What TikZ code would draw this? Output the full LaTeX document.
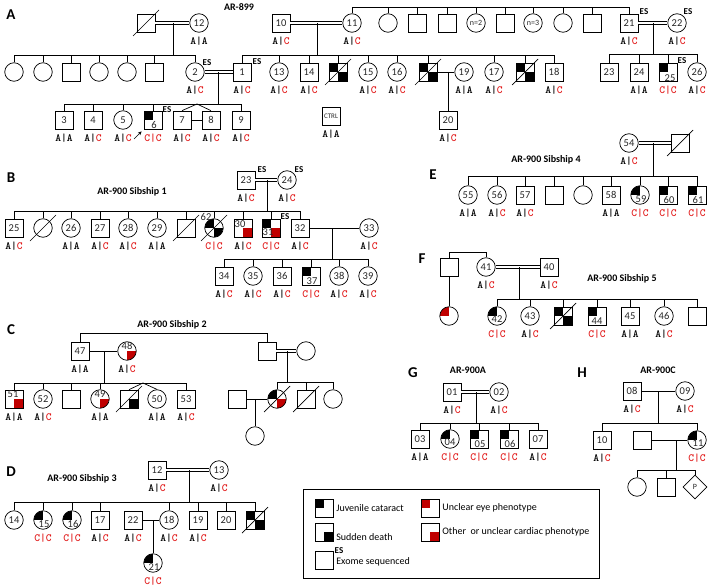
\documentclass[tikz,border=0pt]{standalone}
\usepackage{fontspec}
\setmainfont{Carlito}
\usetikzlibrary{shapes.geometric,arrows.meta}
\definecolor{mred}{RGB}{192,0,0}
\definecolor{gred}{RGB}{225,25,25}
\newcommand{\gaa}{A|A}
\newcommand{\gac}{A|\textcolor{gred}{C}}
\newcommand{\gcc}{\textcolor{gred}{C|C}}
\newcommand{\dead}[1]{\draw ([shift={(-13,13)}]#1.center) -- ([shift={(13,-13)}]#1.center);}
\tikzset{
  pbase/.style={draw, inner sep=0pt, text=black!85, font=\fontsize{10.5}{10.5}\selectfont},
  sq/.style={pbase, rectangle, minimum size=18pt},
  ci/.style={pbase, circle, minimum size=18.5pt},
  qd/.style 2 args={path picture={\fill[#1] (path picture bounding box.center) rectangle (path picture bounding box.north west); \fill[#2] (path picture bounding box.center) rectangle (path picture bounding box.south east);}},
  gts/.style={font=\ttfamily\bfseries\fontsize{11}{11}\selectfont, text=black, text height=6.5pt, text depth=0pt, inner sep=0pt, label distance=5.25pt},
  gt/.style={label={[gts]below:#1}},
  nf/.style={inner sep=0pt, text=black!85, font=\fontsize{10.5}{10.5}\selectfont},
  esf/.style={inner sep=0pt, font=\bfseries\fontsize{9}{9}\selectfont},
  pl/.style={inner sep=0pt, font=\bfseries\fontsize{15}{15}\selectfont},
  ttl/.style={inner sep=0pt, font=\bfseries\fontsize{10}{10}\selectfont},
  dbl/.style={double, double distance=2pt},
  lgt/.style={inner sep=0pt, anchor=west, font=\fontsize{10}{10}\selectfont},
}
\begin{document}
\begin{tikzpicture}[x=1pt,y=-1pt,line width=0.7pt]
\useasboundingbox (0,0) rectangle (709,588);
% ================= A =================
\node[pl] (lA) at (11,15) {A};
\node[ttl] (tA) at (239,7) {AR-899};
\node[sq] (a0) at (146,23) {};
\node[ci,gt=\gaa] (a12) at (199,23) {12};
\dead{a0}
\draw[dbl] (a0) -- (a12);
\coordinate (aS1) at (173,55);
\draw (aS1 |- a12) -- (aS1);
\node[ci] (aL1) at (14,72) {};
\node[ci] (aL2) at (43,72) {};
\node[sq] (aL3) at (71,72) {};
\node[ci] (aL4) at (99,72) {};
\node[ci] (aL5) at (127,72) {};
\node[sq] (aL6) at (154,72) {};
\node[ci,gt=\gac] (a2) at (195,72) {2};
\node[esf] (es2) at (207,63) {ES};
\draw (aL1.north |- aS1) -- (a2.north |- aS1);
\foreach \c in {aL1,aL2,aL3,aL4,aL5,aL6,a2} \draw (\c.north) -- (\c.north |- aS1);
\node[sq,gt=\gac] (a10) at (281,23) {10};
\node[ci,gt=\gac] (a11) at (352,23) {11};
\draw[dbl] (a10) -- (a11);
\coordinate (aS2) at (317,55);
\draw (aS2 |- a10) -- (aS2);
\node[sq,gt=\gac] (a1) at (242,72) {1};
\node[esf] (es1) at (257,62) {ES};
\node[ci,gt=\gac] (a13) at (279,72) {13};
\node[sq,gt=\gac] (a14) at (309,72) {14};
\node[sq,qd={black}{black}] (aD1) at (338,72) {};
\node[ci,gt=\gac] (a15) at (368,72) {15};
\node[ci,gt=\gac] (a16) at (397,72) {16};
\node[sq,qd={black}{black}] (aD2) at (428,72) {};
\node[ci,gt=\gaa] (a19) at (464,72) {19};
\node[ci,gt=\gac] (a17) at (494,72) {17};
\node[sq,qd={black}{black}] (aD3) at (525,72) {};
\node[sq,gt=\gac] (a18) at (554,72) {18};
\dead{aD1}\dead{aD2}\dead{aD3}
\draw (a1.north |- aS2) -- (a18.north |- aS2);
\foreach \c in {a1,a13,a14,aD1,a15,a16,aD2,a17,aD3,a18} \draw (\c.north) -- (\c.north |- aS2);
\draw (aD2) -- (a19);
\node[sq,gt=\gac] (a20) at (448,120) {20};
\draw (a20.north |- aD2) -- (a20.north);
\draw[dbl] (a2) -- (a1);
\coordinate (aS3) at (218,104);
\draw (aS3 |- a2) -- (aS3);
\node[sq,gt=\gaa] (a3) at (64,120) {3};
\node[sq,gt=\gac] (a4) at (93,120) {4};
\node[ci,gt=\gac] (a5) at (123,120) {5};
\node[sq,qd={black}{white},gt=\gcc] (a6) at (153,120) {};
\node[nf] (n6) at ([shift={(1,5)}]a6.center) {6};
\node[esf] (es6) at (167,110) {ES};
\node[sq,gt=\gac] (a7) at (182,120) {7};
\node[sq,gt=\gac] (a8) at (211,120) {8};
\node[sq,gt=\gac] (a9) at (241,120) {9};
\draw (a3.north |- aS3) -- (a9.north |- aS3);
\foreach \c in {a3,a4,a5,a6,a9} \draw (\c.north) -- (\c.north |- aS3);
\coordinate (atw) at (197,104);
\draw (a7.north) -- (atw) -- (a8.north);
\draw (a7) -- (a8);
\coordinate (aar) at (134,139);
\draw[-{Stealth[length=4pt,width=3.5pt]}] (aar) -- ([shift={(-2,2)}]a6.south west);
\node[sq,gt=\gaa,font=\fontsize{7}{7}\selectfont] (actrl) at (331,116) {CTRL};
\coordinate (aS0) at (352,7);
\node[ci] (aT1) at (388,23) {};
\node[sq] (aT2) at (417,23) {};
\node[sq] (aT3) at (447,23) {};
\node[ci,font=\fontsize{8}{8}\selectfont] (aT4) at (476,23) {n=2};
\node[sq] (aT5) at (505,23) {};
\node[ci,font=\fontsize{8}{8}\selectfont] (aT6) at (533,23) {n=3};
\node[ci] (aT7) at (563,23) {};
\node[sq] (aT8) at (592,23) {};
\node[sq,gt=\gac] (a21) at (629,23) {21};
\node[esf] (es21) at (644,12) {ES};
\node[ci,gt=\gac] (a22) at (677,23) {22};
\node[esf] (es22) at (688,12) {ES};
\draw (a11.north |- aS0) -- (a21.north |- aS0);
\foreach \c in {a11,aT1,aT2,aT3,aT4,aT5,aT6,aT7,aT8,a21} \draw (\c.north) -- (\c.north |- aS0);
\draw[dbl] (a21) -- (a22);
\coordinate (aS4) at (653,54);
\draw (aS4 |- a21) -- (aS4);
\node[sq] (a23) at (609,72) {23};
\node[sq,gt=\gaa] (a24) at (639,72) {24};
\node[sq,qd={black}{white},gt=\gcc] (a25) at (668,72) {};
\node[nf] (n25) at ([shift={(2,6)}]a25.center) {25};
\node[esf] (es25) at (682,61) {ES};
\node[ci,gt=\gac] (a26) at (697,72) {26};
\draw (a23.north |- aS4) -- (a26.north |- aS4);
\foreach \c in {a23,a24,a25,a26} \draw (\c.north) -- (\c.north |- aS4);
% ================= B =================
\node[pl] (lB) at (11,178) {B};
\node[ttl] (tB) at (132,192) {AR-900 Sibship 1};
\node[sq,gt=\gac] (b23) at (246,180) {23};
\node[esf] (es23) at (262,170) {ES};
\node[ci,gt=\gac] (b24) at (287,180) {24};
\node[esf] (es24) at (299,170) {ES};
\draw[dbl] (b23) -- (b24);
\coordinate (bS1) at (267,211);
\draw (bS1 |- b23) -- (bS1);
\node[sq,gt=\gac] (b25) at (14,228) {25};
\node[ci] (bD1) at (43,228) {};
\node[ci,gt=\gaa] (b26) at (71,228) {26};
\node[sq,gt=\gac] (b27) at (100,228) {27};
\node[ci,gt=\gac] (b28) at (128,228) {28};
\node[ci,gt=\gaa] (b29) at (157,228) {29};
\node[sq] (bD2) at (186,228) {};
\node[ci,qd={black}{black},gt=\gcc] (b62) at (214,228) {};
\node[nf] (n62) at ([shift={(-8,-11)}]b62.center) {62};
\node[sq,qd={white}{mred},gt=\gac] (b30) at (243,228) {};
\node[nf] (n30) at ([shift={(-3,-4)}]b30.center) {30};
\node[sq,qd={black}{mred},gt=\gcc] (b31) at (271,228) {};
\node[nf] (n31) at ([shift={(-3,4)}]b31.center) {31};
\node[esf] (es31) at (285,217) {ES};
\node[sq,gt=\gac] (b32) at (300,228) {32};
\dead{bD1}\dead{bD2}\dead{b62}
\draw (b25.north |- bS1) -- (b32.north |- bS1);
\foreach \c in {b25,bD1,b26,b27,b28,b29,bD2,b62,b30,b31,b32} \draw (\c.north) -- (\c.north |- bS1);
\node[ci,gt=\gac] (b33) at (369,228) {33};
\draw (b32) -- (b33);
\coordinate (bS2) at (332,259);
\draw (bS2 |- b32) -- (bS2);
\node[sq,gt=\gac] (b34) at (224,276) {34};
\node[ci,gt=\gac] (b35) at (253,276) {35};
\node[sq,gt=\gac] (b36) at (282,276) {36};
\node[sq,qd={black}{white},gt=\gcc] (b37) at (311,276) {};
\node[nf] (n37) at ([shift={(1,5)}]b37.center) {37};
\node[ci,gt=\gac] (b38) at (339,276) {38};
\node[ci,gt=\gac] (b39) at (368,276) {39};
\draw (b34.north |- bS2) -- (b39.north |- bS2);
\foreach \c in {b34,b35,b36,b37,b38,b39} \draw (\c.north) -- (\c.north |- bS2);
% ================= C =================
\node[pl] (lC) at (11,330) {C};
\node[ttl] (tC) at (172,325) {AR-900 Sibship 2};
\node[sq,gt=\gaa] (c47) at (80,351) {47};
\node[ci,qd={white}{mred},gt=\gac] (c48) at (127,351) {};
\node[nf] (n48) at ([shift={(0,-5)}]c48.center) {48};
\draw (c47) -- (c48);
\coordinate (cS1) at (104,383);
\draw (cS1 |- c47) -- (cS1);
\node[sq,qd={white}{mred},gt=\gaa] (c51) at (14,399) {};
\node[nf] (n51) at ([shift={(-1,-5)}]c51.center) {51};
\node[ci,gt=\gac] (c52) at (43,399) {52};
\node[sq] (cU1) at (71,399) {};
\node[ci,qd={white}{mred},gt=\gaa] (c49) at (100,399) {};
\node[nf] (n49) at ([shift={(0,-5)}]c49.center) {49};
\node[sq,qd={white}{black}] (cD1) at (129,399) {};
\node[ci,gt=\gaa] (c50) at (157,399) {50};
\node[sq,gt=\gac] (c53) at (186,399) {53};
\dead{cD1}
\draw (c51.north |- cS1) -- (c53.north |- cS1);
\foreach \c in {c51,c52,cU1,c49,c53} \draw (\c.north) -- (\c.north |- cS1);
\coordinate (ctw) at (143,383);
\draw (cD1.north) -- (ctw) -- (c50.north);
\coordinate (cT) at (80,333);
\node[sq] (cR) at (267,351) {};
\node[ci] (cRw) at (306,351) {};
\draw (c47.north) -- (c47.north |- cT) -- (cR.north |- cT) -- (cR.north);
\draw[dbl] (cR) -- (cRw);
\coordinate (cS2) at (287,382);
\draw (cS2 |- cR) -- (cS2);
\node[ci,qd={black}{mred}] (cD2) at (277,399) {};
\node[sq] (cD3) at (306,399) {};
\node[ci] (cU2) at (333,399) {};
\dead{cD2}\dead{cD3}
\draw (cD2.north |- cS2) -- (cU2.north |- cS2);
\foreach \c in {cD2,cD3,cU2} \draw (\c.north) -- (\c.north |- cS2);
\node[sq] (cSp) at (237,399) {};
\draw (cSp) -- (cD2);
\node[ci] (cU3) at (255,436) {};
\draw (cU3.north |- cSp) -- (cU3.north);
% ================= D =================
\node[pl] (lD) at (11,472) {D};
\node[ttl] (tD) at (82,479) {AR-900 Sibship 3};
\node[sq,gt=\gac] (d12) at (157,470) {12};
\node[ci,gt=\gac] (d13) at (219,470) {13};
\draw[dbl] (d12) -- (d13);
\coordinate (dS) at (189,502);
\draw (dS |- d12) -- (dS);
\node[ci] (d14) at (14,520) {14};
\node[ci,qd={black}{white},gt=\gcc] (d15) at (43,520) {};
\node[nf] (n15) at ([shift={(1,4)}]d15.center) {15};
\node[ci,qd={black}{white},gt=\gcc] (d16) at (72,520) {};
\node[nf] (n16) at ([shift={(1,4)}]d16.center) {16};
\node[sq,gt=\gac] (d17) at (100,520) {17};
\node[sq,gt=\gac] (d22) at (133,520) {22};
\node[ci,gt=\gac] (d18) at (169,520) {18};
\node[sq,gt=\gac] (d19) at (198,520) {19};
\node[sq] (d20) at (226,520) {20};
\node[sq,qd={black}{black}] (dD) at (255,520) {};
\dead{dD}
\draw (d14.north |- dS) -- (dD.north |- dS);
\foreach \c in {d14,d15,d16,d17,d18,d19,d20,dD} \draw (\c.north) -- (\c.north |- dS);
\draw (d22) -- (d18);
\node[ci,qd={black}{white},gt=\gcc] (d21) at (153,563) {};
\node[nf] (n21) at ([shift={(1,4)}]d21.center) {21};
\draw (d21.north |- d22) -- (d21.north);
% ================= E =================
\node[pl] (lE) at (433,175) {E};
\node[ttl] (tE) at (546,160) {AR-900 Sibship 4};
\node[ci,gt=\gac] (e54) at (629,143) {54};
\node[sq] (eD) at (680,143) {};
\dead{eD}
\draw[dbl] (e54) -- (eD);
\coordinate (eS) at (653,176);
\draw (eS |- e54) -- (eS);
\node[ci,gt=\gaa] (e55) at (468,195) {55};
\node[ci,gt=\gac] (e56) at (497,195) {56};
\node[sq,gt=\gac] (e57) at (525,195) {57};
\node[sq] (eU1) at (554,195) {};
\node[ci] (eU2) at (583,195) {};
\node[sq,gt=\gaa] (e58) at (611,195) {58};
\node[ci,qd={black}{white},gt=\gcc] (e59) at (640,195) {};
\node[nf] (n59) at ([shift={(1,4)}]e59.center) {59};
\node[sq,qd={black}{white},gt=\gcc] (e60) at (668,195) {};
\node[nf] (n60) at ([shift={(1,5)}]e60.center) {60};
\node[sq,qd={black}{white},gt=\gcc] (e61) at (697,195) {};
\node[nf] (n61) at ([shift={(1,5)}]e61.center) {61};
\draw (e55.north |- eS) -- (e61.north |- eS);
\foreach \c in {e55,e56,e57,eU1,eU2,e58,e59,e60,e61} \draw (\c.north) -- (\c.north |- eS);
% ================= F =================
\node[pl] (lF) at (422,259) {F};
\node[ttl] (tF) at (622,279) {AR-900 Sibship 5};
\node[sq] (fU) at (449,267) {};
\node[ci,gt=\gac] (f41) at (486,267) {41};
\node[sq,gt=\gac] (f40) at (549,267) {40};
\coordinate (fT) at (449,252);
\draw (fU.north) -- (fU.north |- fT) -- (f41.north |- fT) -- (f41.north);
\draw[dbl] (f41) -- (f40);
\coordinate (fS) at (519,299);
\draw (fS |- f41) -- (fS);
\node[ci,qd={mred}{white}] (fR) at (449,316) {};
\draw (fU) -- (fR);
\node[ci,qd={black}{white},gt=\gcc] (f42) at (497,316) {};
\node[nf] (n42) at ([shift={(0,3)}]f42.center) {42};
\node[ci,gt=\gac] (f43) at (530,316) {43};
\node[sq,qd={black}{black}] (fD) at (563,316) {};
\dead{fD}
\node[sq,qd={black}{white},gt=\gcc] (f44) at (597,316) {};
\node[nf] (n44) at ([shift={(0,5)}]f44.center) {44};
\node[sq,gt=\gaa] (f45) at (630,316) {45};
\node[ci,gt=\gac] (f46) at (664,316) {46};
\node[sq] (fU2) at (697,316) {};
\draw (f42.north |- fS) -- (fU2.north |- fS);
\foreach \c in {f42,f43,fD,f44,f45,f46,fU2} \draw (\c.north) -- (\c.north |- fS);
% ================= G =================
\node[pl] (lG) at (413,373) {G};
\node[ttl] (tG) at (468,370) {AR-900A};
\node[sq,gt=\gac] (g01) at (452,392) {01};
\node[ci,gt=\gac] (g02) at (499,392) {02};
\draw[dbl] (g01) -- (g02);
\coordinate (gS) at (476,423);
\draw (gS |- g01) -- (gS);
\node[sq,gt=\gaa] (g03) at (420,439) {03};
\node[ci,qd={black}{white},gt=\gcc] (g04) at (450,439) {};
\node[nf] (n04) at ([shift={(0,3)}]g04.center) {04};
\node[sq,qd={black}{white},gt=\gcc] (g05) at (479,439) {};
\node[nf] (n05) at ([shift={(1,5)}]g05.center) {05};
\node[sq,qd={black}{white},gt=\gcc] (g06) at (509,439) {};
\node[nf] (n06) at ([shift={(1,5)}]g06.center) {06};
\node[sq,gt=\gac] (g07) at (538,439) {07};
\draw (g03.north |- gS) -- (g07.north |- gS);
\foreach \c in {g03,g04,g05,g06,g07} \draw (\c.north) -- (\c.north |- gS);
% ================= H =================
\node[pl] (lH) at (582,373) {H};
\node[ttl] (tH) at (658,370) {AR-900C};
\node[sq,gt=\gac] (h08) at (632,391) {08};
\node[ci,gt=\gac] (h09) at (685,391) {09};
\draw (h08) -- (h09);
\coordinate (hS) at (658,423);
\draw (hS |- h08) -- (hS);
\node[sq,gt=\gac] (h10) at (602,440) {10};
\node[sq] (hU) at (642,440) {};
\node[ci,qd={black}{white},gt=\gcc] (h11) at (697,440) {};
\node[nf] (n11) at ([shift={(1,3)}]h11.center) {11};
\draw (h10.north |- hS) -- (h11.north |- hS);
\foreach \c in {h10,h11} \draw (\c.north) -- (\c.north |- hS);
\draw (hU) -- (h11);
\coordinate (hS2) at (676,470);
\draw (hS2 |- hU) -- (hS2);
\node[ci] (hC1) at (637,487) {};
\node[sq] (hC2) at (666,487) {};
\node[pbase,diamond,minimum size=24pt,font=\fontsize{8}{8}\selectfont] (hP) at (695,487) {P};
\draw (hC1.north |- hS2) -- (hP.north |- hS2);
\foreach \c in {hC1,hC2,hP} \draw (\c.north) -- (\c.north |- hS2);
% ================= Legend =================
\draw (303,489) rectangle (599,578);
\node[sq,qd={black}{white}] (lg1) at (324,508) {};
\node[lgt] (lt1) at (336,508) {Juvenile cataract};
\node[sq,qd={white}{black}] (lg2) at (324,532) {};
\node[lgt] (lt2) at (336,537) {Sudden death};
\node[sq] (lg3) at (324,560) {};
\node[esf] (es0) at (339,551) {ES};
\node[lgt] (lt3) at (336,562) {Exome sequenced};
\node[sq,qd={mred}{white}] (lg4) at (430,508) {};
\node[lgt] (lt4) at (442,508) {Unclear eye phenotype};
\node[sq,qd={white}{mred}] (lg5) at (430,532) {};
\node[lgt] (lt5) at (442,532) {Other\ \ or unclear cardiac phenotype};
\end{tikzpicture}
\end{document}
